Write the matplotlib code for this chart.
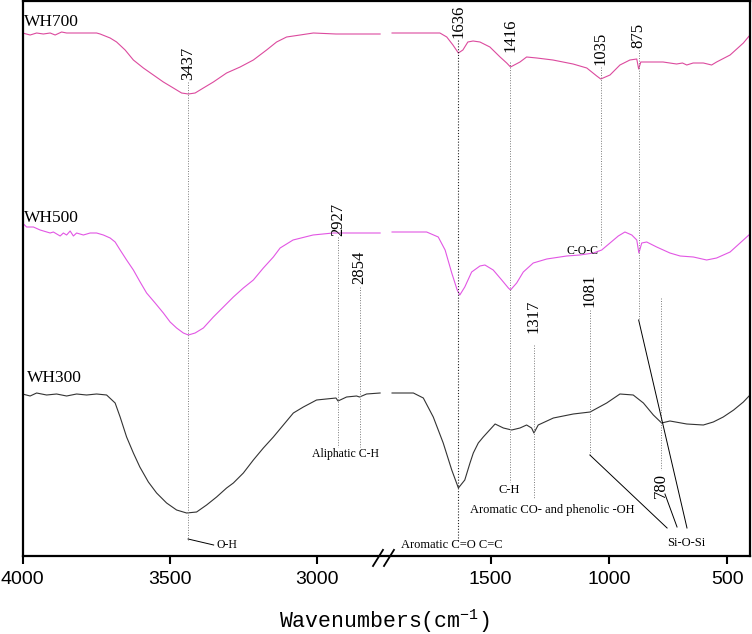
import numpy as np
import matplotlib
matplotlib.use('Agg')
import matplotlib.pyplot as plt

plt.rcParams['mathtext.default'] = 'regular'

# FTIR spectra, wavenumber (cm-1) and transmittance (a.u., offset per sample)
# nan marks the broken part of the axis (2784 -> 1916)
wn700 = [4000, 3974, 3952, 3929, 3906, 3889, 3867, 3850, 3816, 3782, 3748, 3736, 3702,
         3680, 3651, 3623, 3589, 3555, 3521, 3487, 3459, 3436, 3413, 3385, 3351, 3306,
         3260, 3215, 3170, 3136, 3102, 3056, 3011, 2934, 2864, 2784, np.nan,
         1916, 1714, 1685, 1659, 1636, 1617, 1596, 1574, 1545, 1503, 1460, 1432,
         1416, 1376, 1348, 1305, 1237, 1152, 1094, 1052, 1035, 996, 954, 912,
         883, 875, 866, 841, 772, 715, 690, 672, 645, 602, 567, 546, 489, 433, 405]
t700 = [523, 521, 523, 522, 523, 521, 524, 523, 523, 523, 523, 522, 518,
        514, 506, 496, 488, 481, 474, 468, 463, 462, 463, 468, 474, 483,
        489, 496, 506, 514, 519, 521, 523, 522, 522, 522, np.nan,
        523, 523, 519, 511, 503, 506, 514, 515, 514, 509, 499, 493,
        489, 494, 499, 498, 496, 492, 488, 480, 477, 481, 491, 496,
        497, 487, 494, 494, 494, 492, 493, 491, 493, 493, 491, 494, 501, 513, 521]

wn500 = [4000, 3986, 3963, 3940, 3906, 3895, 3872, 3861, 3850, 3838, 3827, 3816,
         3793, 3770, 3748, 3725, 3702, 3685, 3668, 3646, 3623, 3600, 3578, 3549,
         3521, 3498, 3476, 3453, 3436, 3413, 3385, 3351, 3317, 3283, 3249, 3215,
         3181, 3147, 3124, 3080, 3012, 2944, 2920, 2897, 2784, np.nan,
         1916, 1770, 1721, 1692, 1664, 1641, 1630, 1609, 1580, 1545, 1524, 1489,
         1453, 1425, 1416, 1390, 1362, 1320, 1263, 1179, 1123, 1066, 1031, 996,
         961, 933, 904, 883, 874, 862, 841, 799, 743, 700, 644, 588, 546, 489, 433, 405]
t500 = [333, 329, 329, 326, 323, 324, 320, 323, 321, 325, 320, 323,
        321, 323, 323, 321, 318, 314, 306, 296, 286, 274, 263, 253,
        243, 234, 228, 223, 221, 223, 228, 239, 249, 259, 268, 276,
        288, 299, 308, 316, 321, 323, 323, 323, 323, np.nan,
        324, 324, 319, 306, 283, 266, 261, 269, 284, 290, 291, 286,
        276, 268, 266, 273, 284, 293, 297, 300, 301, 303, 306, 313,
        320, 324, 321, 316, 303, 313, 314, 309, 303, 300, 299, 296, 298, 304, 316, 322]

wn300 = [4000, 3974, 3952, 3918, 3884, 3850, 3816, 3782, 3748, 3714, 3685, 3668,
         3646, 3623, 3601, 3572, 3544, 3510, 3476, 3442, 3408, 3374, 3340, 3306,
         3283, 3249, 3215, 3181, 3147, 3113, 3079, 3045, 3000, 2934,
         2927, 2898, 2864, 2854, 2830, 2784, np.nan,
         1916, 1826, 1784, 1742, 1700, 1664, 1636, 1609, 1587, 1573, 1552, 1531,
         1481, 1446, 1411, 1376, 1348, 1327, 1317, 1299, 1235, 1151, 1080, 1010,
         954, 898, 855, 813, 778, 743, 672, 602, 560, 518, 474, 433, 405]
t300 = [162, 160, 163, 161, 162, 160, 162, 161, 162, 161, 153, 139,
        119, 103, 89, 74, 63, 53, 46, 43, 44, 51, 59, 68,
        73, 83, 96, 108, 119, 131, 143, 149, 156, 158,
        155, 159, 160, 159, 162, 163, np.nan,
        163, 163, 158, 139, 113, 86, 68, 76, 93, 103, 113, 119,
        132, 128, 126, 128, 131, 128, 123, 131, 138, 142, 144, 153,
        162, 161, 153, 141, 133, 135, 132, 131, 134, 139, 146, 154, 161]

ticks = [4000, 3500, 3000, 1500, 1000, 500]

# broken axis: piecewise linear wavenumber scale
knot_w = np.array([0, 405, 1916, 2784, 4000, 5000])
knot_x = np.array([846.0, 750.0, 392.05, 380.1, 22.5, -271.6])


def fwd(w):
    return np.interp(w, knot_w, -knot_x)


def inv(t):
    return np.interp(t, -knot_x, knot_w)


fig = plt.figure(figsize=(7.52, 6.34), dpi=100)
ax = fig.add_axes([22.5 / 752, 1 - 556 / 634, 727.5 / 752, 555 / 634])
ax.set_xscale('function', functions=(fwd, inv))

ax.plot(wn700, t700, color='#dc4a9e', lw=0.8)
ax.plot(wn500, t500, color='#e256e4', lw=0.8)
ax.plot(wn300, t300, color='#333333', lw=0.8)

ax.set_xlim(4000, 405)
ax.set_ylim(0, 555)
ax.set_xticks(ticks)
ax.set_xticklabels([str(t) for t in ticks], fontfamily='Liberation Sans', fontsize=14)
ax.minorticks_off()
ax.set_yticks([])
ax.tick_params(axis='x', direction='out', length=6, width=1.5, pad=5)
for s in ax.spines.values():
    s.set_linewidth(1.6)

serif = 'Liberation Serif'
dot = (0, (1, 1.6))

# peak marker lines: (wavenumber, y from, y to)
peaks = [(3437, 474, 16), (2927, 319, 109), (2854, 269, 109), (1416, 494, 74),
         (1317, 211, 58), (1081, 246, 101), (1035, 489, 311), (875, 506, 236),
         (780, 258, 86)]
for w, y0, y1 in peaks:
    ax.plot([w, w], [y0, y1], color='#7a7a7a', lw=0.7, ls=dot)
ax.plot([1636, 1636], [516, 14], color='#222222', lw=0.8, ls=dot)

# peak numbers (rotated)
nums = [(3437, 476), (2927, 320), (2854, 272), (1636, 518), (1416, 504),
        (1035, 491), (875, 508), (1317, 223), (1081, 249), (780, 58)]
for w, y in nums:
    ax.text(w, y, str(w), rotation=90, ha='center', va='bottom',
            fontfamily=serif, fontsize=12)

# sample names
ax.text(3995, 534, 'WH700', ha='left', va='center', fontfamily=serif, fontsize=12.5)
ax.text(3995, 338, 'WH500', ha='left', va='center', fontfamily=serif, fontsize=12.5)
ax.text(3985, 178, 'WH300', ha='left', va='center', fontfamily=serif, fontsize=12.5)

# group assignments
ax.text(2900, 102, 'Aliphatic C-H', ha='center', va='center', fontfamily=serif, fontsize=8.5)
ax.text(3340, 11, 'O-H', ha='left', va='center', fontfamily=serif, fontsize=8.5)
ax.text(1880, 11, 'Aromatic C=O C=C', ha='left', va='center', fontfamily=serif, fontsize=9)
ax.text(1420, 66, 'C-H', ha='center', va='center', fontfamily=serif, fontsize=9)
ax.text(1587, 46, 'Aromatic CO- and phenolic -OH', ha='left', va='center',
        fontfamily=serif, fontsize=9)
ax.text(1110, 305, 'C-O-C', ha='center', va='center', fontfamily=serif, fontsize=8.5)
ax.text(755, 13, 'Si-O-Si', ha='left', va='center', fontfamily=serif, fontsize=9)

# leader lines
ax.plot([3437, 3350], [17, 11], color='k', lw=0.7)
ax.plot([1081, 755], [101, 28], color='k', lw=0.7)
ax.plot([875, 671], [236, 28], color='k', lw=0.7)
ax.plot([764, 713], [62, 29], color='k', lw=0.7)

# axis break marks
for x0 in (0.4818, 0.4969):
    ax.plot([x0, x0 + 0.0137], [-0.018, 0.011], color='k', lw=1.3,
            transform=ax.transAxes, clip_on=False)

fig.text(384 / 752, -1 / 634, 'Wavenumbers(cm$^{-1}$)', ha='center', va='bottom',
         fontfamily='Liberation Mono', fontsize=15.5)

fig.savefig('out.png', dpi=100)
